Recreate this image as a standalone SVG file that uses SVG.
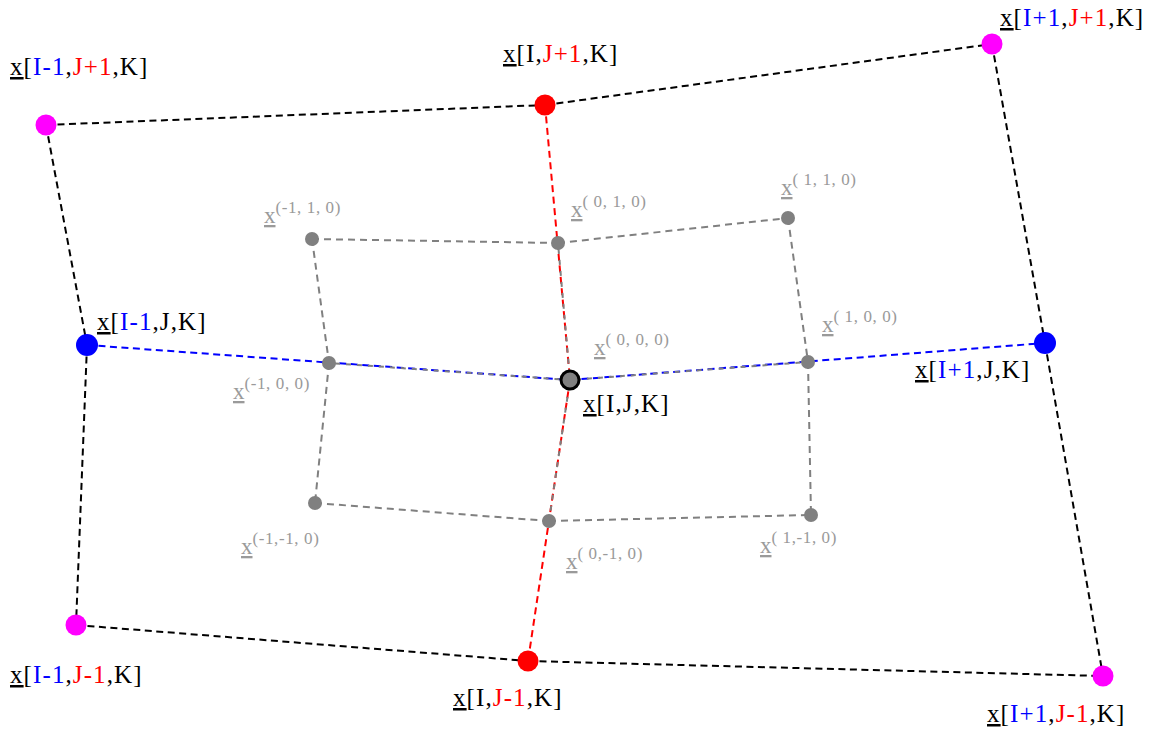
<svg xmlns="http://www.w3.org/2000/svg" width="1166" height="732" viewBox="0 0 1166 732">
<style>
.bk{stroke:#000;stroke-width:2;stroke-dasharray:7 4.5;fill:none}
.rd{stroke:#ff0000;stroke-width:2;stroke-dasharray:7 4.5;fill:none}
.bl{stroke:#0000ff;stroke-width:2;stroke-dasharray:7 4.5;fill:none}
.gr{stroke:#808080;stroke-width:2;stroke-dasharray:7 5;fill:none}
.gro{stroke:#808080;stroke-width:2;stroke-dasharray:5 6;stroke-dashoffset:5;fill:none}
.lab{font-family:"Liberation Serif","Times New Roman",serif;font-size:25px;letter-spacing:1.1px;fill:#000;white-space:pre}
.glab{font-family:"Liberation Serif","Times New Roman",serif;font-size:23px;fill:#9a9a9a;white-space:pre}
.sup{font-size:17px;letter-spacing:0.6px}
.u{text-decoration:underline;text-decoration-thickness:1.3px;text-underline-offset:3px}
.cb{fill:#0000ff}
.cr{fill:#ff0000}
.mag{fill:#ff00ff}
.red{fill:#ff0000}
.blu{fill:#0000ff}
.gn{fill:#808080}
</style>
<g id="connectors">
<path class="bk" d="M46,125 L545,105"/>
<path class="bk" d="M545,105 L992,44"/>
<path class="bk" d="M46,125 L87,345"/>
<path class="bk" d="M87,345 L76,625"/>
<path class="bk" d="M76,625 L528,661"/>
<path class="bk" d="M528,661 L1103,676"/>
<path class="bk" d="M992,44 L1045,343"/>
<path class="bk" d="M1045,343 L1103,676"/>
<path class="rd" d="M545,105 L570,380"/>
<path class="rd" d="M570,380 L528,661"/>
<path class="bl" d="M87,345 L570,380"/>
<path class="bl" d="M570,380 L1045,343"/>
<path class="gr" d="M312,239 L558,243"/>
<path class="gr" d="M558,243 L788,218"/>
<path class="gr" d="M312,239 L329,363"/>
<path class="gr" d="M329,363 L315,503"/>
<path class="gr" d="M315,503 L549,521"/>
<path class="gr" d="M549,521 L811,515"/>
<path class="gr" d="M788,218 L808,362"/>
<path class="gr" d="M808,362 L811,515"/>
<path class="gro" d="M329,363 L570,380"/>
<path class="gro" d="M570,380 L808,362"/>
<path class="gro" d="M558,243 L570,380"/>
<path class="gro" d="M570,380 L549,521"/>
</g>
<g id="n-im1-jp1"><circle class="mag" cx="46" cy="125" r="10.5"/><text class="lab" x="10" y="75"><tspan class="u">x</tspan>[<tspan class="cb">I-1</tspan>,<tspan class="cr">J+1</tspan>,K]</text></g>
<g id="n-i-jp1"><circle class="red" cx="545" cy="105" r="10.5"/><text class="lab" x="503" y="62"><tspan class="u">x</tspan>[I,<tspan class="cr">J+1</tspan>,K]</text></g>
<g id="n-ip1-jp1"><circle class="mag" cx="992" cy="44" r="10.5"/><text class="lab" x="1000" y="26"><tspan class="u">x</tspan>[<tspan class="cb">I+1</tspan>,<tspan class="cr">J+1</tspan>,K]</text></g>
<g id="n-im1-j"><circle class="blu" cx="87" cy="345" r="11"/><text class="lab" x="97" y="330"><tspan class="u">x</tspan>[<tspan class="cb">I-1</tspan>,J,K]</text></g>
<g id="n-ip1-j"><circle class="blu" cx="1045" cy="343" r="11"/><text class="lab" x="915" y="378"><tspan class="u">x</tspan>[<tspan class="cb">I+1</tspan>,J,K]</text></g>
<g id="n-im1-jm1"><circle class="mag" cx="76" cy="625" r="10.5"/><text class="lab" x="10" y="683"><tspan class="u">x</tspan>[<tspan class="cb">I-1</tspan>,<tspan class="cr">J-1</tspan>,K]</text></g>
<g id="n-i-jm1"><circle class="red" cx="528" cy="661" r="10.5"/><text class="lab" x="453" y="706"><tspan class="u">x</tspan>[I,<tspan class="cr">J-1</tspan>,K]</text></g>
<g id="n-ip1-jm1"><circle class="mag" cx="1103" cy="676" r="10.5"/><text class="lab" x="987" y="722"><tspan class="u">x</tspan>[<tspan class="cb">I+1</tspan>,<tspan class="cr">J-1</tspan>,K]</text></g>
<g id="g-m1-1"><circle class="gn" cx="312" cy="239" r="7"/><text class="glab" x="264" y="223"><tspan class="u">x</tspan><tspan class="sup" dy="-10">(-1, 1, 0)</tspan></text></g>
<g id="g-0-1"><circle class="gn" cx="558" cy="243" r="7"/><text class="glab" x="571" y="217"><tspan class="u">x</tspan><tspan class="sup" dy="-10">( 0, 1, 0)</tspan></text></g>
<g id="g-1-1"><circle class="gn" cx="788" cy="218" r="7"/><text class="glab" x="781" y="195"><tspan class="u">x</tspan><tspan class="sup" dy="-10">( 1, 1, 0)</tspan></text></g>
<g id="g-m1-0"><circle class="gn" cx="329" cy="363" r="7"/><text class="glab" x="233" y="399"><tspan class="u">x</tspan><tspan class="sup" dy="-10">(-1, 0, 0)</tspan></text></g>
<g id="g-1-0"><circle class="gn" cx="808" cy="362" r="7"/><text class="glab" x="822" y="332"><tspan class="u">x</tspan><tspan class="sup" dy="-10">( 1, 0, 0)</tspan></text></g>
<g id="g-m1-m1"><circle class="gn" cx="315" cy="503" r="7"/><text class="glab" x="241" y="554"><tspan class="u">x</tspan><tspan class="sup" dy="-10">(-1,-1, 0)</tspan></text></g>
<g id="g-0-m1"><circle class="gn" cx="549" cy="521" r="7"/><text class="glab" x="566" y="569"><tspan class="u">x</tspan><tspan class="sup" dy="-10">( 0,-1, 0)</tspan></text></g>
<g id="g-1-m1"><circle class="gn" cx="811" cy="515" r="7"/><text class="glab" x="760" y="553"><tspan class="u">x</tspan><tspan class="sup" dy="-10">( 1,-1, 0)</tspan></text></g>
<g id="center"><circle cx="570" cy="380" r="9" fill="#808080" stroke="#000" stroke-width="3"/><text class="glab" x="594" y="355"><tspan class="u">x</tspan><tspan class="sup" dy="-10">( 0, 0, 0)</tspan></text><text class="lab" x="583" y="412"><tspan class="u">x</tspan>[I,J,K]</text></g>
</svg>
